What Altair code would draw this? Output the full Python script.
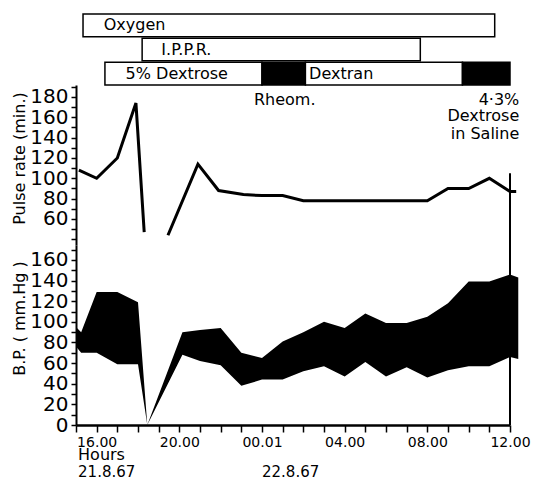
import altair as alt
import pandas as pd

FONT = "DejaVu Sans"

# ---- treatment bars ----
bar_row = ["Oxygen", "IPPR", "IV", "IV", "IV", "IV"]
bar_start = [15.34, 18.2, 16.4, 24.0, 26.1, 33.7]
bar_end = [35.26, 31.66, 24.0, 26.1, 33.7, 36.0]
bar_fill = ["white", "white", "white", "black", "white", "black"]

bar_label = ["Oxygen", "I.P.P.R.", "5% Dextrose", "Dextran"]
bar_label_row = ["Oxygen", "IPPR", "IV", "IV"]
bar_label_x = [16.34, 19.13, 17.4, 26.28]

# ---- pulse rate ----
pulse_hour = [15.14, 16, 17, 17.9, 18.3, 19.45, 20.9, 21.9, 23.1, 24, 25, 26, 32, 33, 34, 35, 36, 36.3]
pulse_rate = [108, 100, 120, 174, 47, 44, 114, 88, 84, 83, 83, 78, 78, 90, 90, 100, 87, 87]
pulse_seg = [1, 1, 1, 1, 1, 2, 2, 2, 2, 2, 2, 2, 2, 2, 2, 2, 2, 2]

note_text = ["Rheom.", "4·3%", "Dextrose", "in Saline"]
note_hour = [25.1, 36.45, 36.45, 36.45]
note_val = [177, 177, 161, 144]
note_align = ["center", "right", "right", "right"]

# ---- blood pressure ----
bp_hour = [15.0, 15.25, 16, 17, 18, 18.45, 20.15, 21, 22, 23, 24, 24.5, 25, 26, 27, 28, 29, 30, 31, 32, 33, 34, 35, 36, 36.4]
systolic = [95, 90, 129, 129, 119, 0, 90, 92, 94, 70, 65, 73, 81, 90, 100, 94, 108, 99, 99, 105, 118, 139, 139, 146, 143]
diastolic = [76, 70, 70, 59, 59, 0, 68, 62, 58, 38, 44, 44, 44, 52, 57, 47, 61, 47, 56, 46, 53, 57, 57, 66, 64]

tick_hours = [16, 20, 24, 28, 32, 36]
tick_text = ["16.00", "20.00", "00.01", "04.00", "08.00", "12.00"]

date_text = ["Hours", "21.8.67", "22.8.67"]
date_hour = [15.1, 15.1, 24.0]
date_line = [0, 1, 1]

X_DOM = [15, 36]
W = 434
PULSE_DOM = [34.4, 191.8]
BP_DOM = [0, 174.5]

NOVIEW = alt.ViewConfig(stroke="transparent", strokeWidth=0, fill="transparent")

xs = alt.Scale(domain=X_DOM, nice=False, zero=False)

common_axis = dict(
    labelFont=FONT, labelOverlap=False, labelFlush=False, tickWidth=1.5,
    domainColor="black", tickColor="black", labelColor="black", titleColor="black", grid=False,
)

# treatments panel
bars = pd.DataFrame({"row": bar_row, "s": bar_start, "e": bar_end, "fill": bar_fill})
labels = pd.DataFrame({"row": bar_label_row, "x": bar_label_x, "t": bar_label})
ys_t = alt.Scale(domain=["Oxygen", "IPPR", "IV"], paddingInner=0.06, paddingOuter=0)

t_rect = alt.Chart(bars).mark_rect(stroke="black", strokeWidth=1.5).encode(
    x=alt.X("s:Q", scale=xs, axis=None),
    x2="e:Q",
    y=alt.Y("row:N", scale=ys_t, axis=None),
    fill=alt.Fill("fill:N", scale=None),
)
t_text = alt.Chart(labels).mark_text(align="left", baseline="middle", font=FONT, fontSize=16, color="black").encode(
    x=alt.X("x:Q", scale=xs, axis=None),
    y=alt.Y("row:N", scale=ys_t, axis=None),
    text="t:N",
)
treat = alt.layer(t_rect, t_text).properties(width=W, height=71, view=NOVIEW)

# pulse panel
pdf = pd.DataFrame({"h": pulse_hour, "p": pulse_rate, "seg": pulse_seg})
ps = alt.Scale(domain=PULSE_DOM, nice=False, zero=False)
pulse_axis = alt.Axis(
    values=list(range(40, 191, 10)),
    labelExpr="(datum.value % 20 == 0 && datum.value >= 60 && datum.value <= 180) ? datum.label : ''",
    labelFontSize={"condition": {"test": "datum.value % 20 == 0 && datum.value >= 60 && datum.value <= 180", "value": 20}, "value": 0},
    title="Pulse rate (min.)", titleY=73, titleFontSize=16, titleFont=FONT, titleFontWeight="normal",
    tickSize=5, labelPadding=3, titlePadding=2, domainWidth=2,
    **common_axis,
)
p_line = alt.Chart(pdf).mark_line(color="black", strokeWidth=3, strokeJoin="miter").encode(
    x=alt.X("h:Q", scale=xs, axis=None),
    y=alt.Y("p:Q", scale=ps, axis=pulse_axis),
    detail="seg:N",
)
notes = pd.DataFrame({"t": note_text, "h": note_hour, "v": note_val, "a": note_align})
p_notes = []
for al in ["center", "right"]:
    p_notes.append(
        alt.Chart(notes[notes.a == al]).mark_text(align=al, baseline="middle", font=FONT, fontSize=16, color="black").encode(
            x=alt.X("h:Q", scale=xs, axis=None),
            y=alt.Y("v:Q", scale=ps, axis=pulse_axis),
            text="t:N",
        )
    )
p_rule = alt.Chart(pd.DataFrame({"h": [36], "top": [105], "bot": [PULSE_DOM[0]]})).mark_rule(color="black", strokeWidth=2).encode(
    x=alt.X("h:Q", scale=xs, axis=None),
    y=alt.Y("top:Q", scale=ps, axis=pulse_axis),
    y2="bot:Q",
)
pulse = alt.layer(p_line, p_rule, *p_notes).properties(width=W, height=160, view=NOVIEW)

# BP panel
bdf = pd.DataFrame({"h": bp_hour, "sys": systolic, "dia": diastolic})
bs = alt.Scale(domain=BP_DOM, nice=False, zero=False)
label_map = "{" + ",".join(f"'{h}':'{t}'" for h, t in zip(tick_hours, tick_text)) + "}"
x_axis = alt.Axis(
    values=list(range(15, 37)),
    labelExpr=f"({label_map})[datum.value] || ''",
    title=None, labelFontSize=14, tickSize=7, labelPadding=3, domainWidth=2.5,
    **common_axis,
)
bp_axis = alt.Axis(
    values=list(range(0, 171, 10)),
    labelExpr="(datum.value % 20 == 0 && datum.value <= 160) ? datum.label : ''",
    labelFontSize={"condition": {"test": "datum.value % 20 == 0 && datum.value <= 160", "value": 20}, "value": 0},
    title="B.P. ( mm.Hg )", titleY=73, titleFontSize=16, titleFont=FONT, titleFontWeight="normal",
    tickSize=5, labelPadding=3, titlePadding=2, domainWidth=2,
    **common_axis,
)
b_area = alt.Chart(bdf).mark_area(color="black", opacity=1).encode(
    x=alt.X("h:Q", scale=xs, axis=x_axis),
    y=alt.Y("sys:Q", scale=bs, axis=bp_axis),
    y2="dia:Q",
)
b_rule = alt.Chart(pd.DataFrame({"h": [36], "top": [BP_DOM[1]], "bot": [BP_DOM[0]]})).mark_rule(color="black", strokeWidth=2).encode(
    x=alt.X("h:Q", scale=xs, axis=x_axis),
    y=alt.Y("top:Q", scale=bs, axis=bp_axis),
    y2="bot:Q",
)
dates = pd.DataFrame({"t": date_text, "h": date_hour, "line": date_line})
b_dates0 = alt.Chart(dates[dates.line == 0]).mark_text(align="left", baseline="middle", font=FONT, fontSize=16, color="black").encode(
    x=alt.X("h:Q", scale=xs, axis=x_axis),
    y=alt.value(210),
    text="t:N",
)
b_dates1 = alt.Chart(dates[dates.line == 1]).mark_text(align="left", baseline="middle", font=FONT, fontSize=15, color="black").encode(
    x=alt.X("h:Q", scale=xs, axis=x_axis),
    y=alt.value(227),
    text="t:N",
)
bp = alt.layer(b_area, b_rule, b_dates0, b_dates1).properties(width=W, height=180, view=NOVIEW)

chart = alt.vconcat(treat, pulse, bp, spacing=0, bounds="flush").properties(
    padding={"left": 3, "top": 5, "right": 0, "bottom": 0}
).configure_view(stroke="transparent", strokeWidth=0, fill="transparent").configure(background="white")

chart.save("out.html", embed_options={"renderer": "svg", "actions": False})
